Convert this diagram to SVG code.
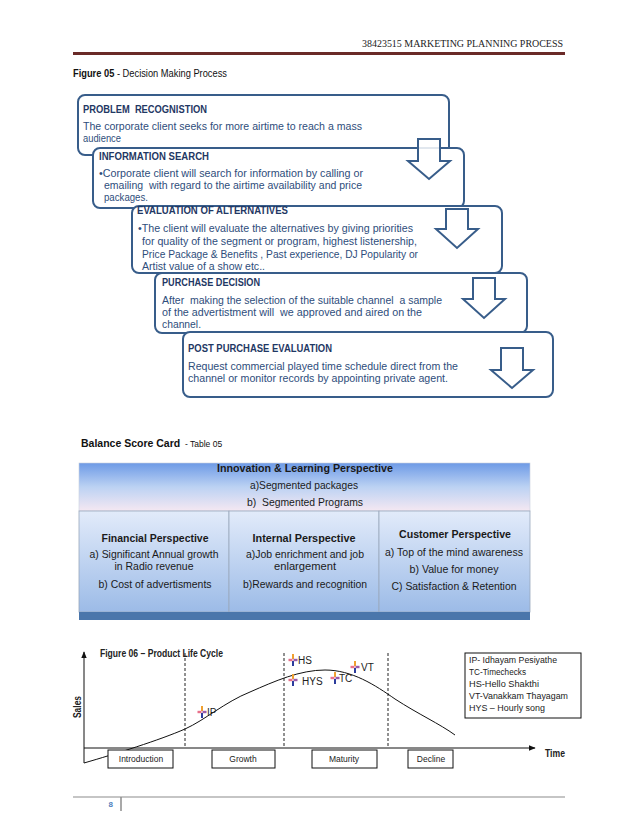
<svg xmlns="http://www.w3.org/2000/svg" xmlns:xlink="http://www.w3.org/1999/xlink" width="638" height="826" viewBox="0 0 638 826">
<style>
text{font-family:"Liberation Sans",Arial,sans-serif}
.hdr{font-family:"Liberation Serif","Times New Roman",serif;font-size:10.5px;fill:#222}
.cap{font-size:10px;fill:#111}
.b{font-weight:bold}
.box{fill:#fff;stroke:#385d8a;stroke-width:2}
.bh{font-size:10px;font-weight:bold;fill:#1f3864}
.bt{font-size:10.5px;fill:#2e4d7b}
.arr{fill:#fff;fill-opacity:0.85;stroke:#385d8a;stroke-width:2;stroke-linejoin:miter}
.tt{font-size:10.5px;fill:#1a1a1a;text-anchor:middle}
.cell{fill:url(#cellGrad);stroke:#9aa8bc;stroke-width:0.8}
.ax{stroke:#111;stroke-width:1;fill:none}
.dash{stroke:#222;stroke-width:1;stroke-dasharray:3,2}
.ph{fill:#fff;stroke:#111;stroke-width:1}
.pt{font-size:8.5px;fill:#222;text-anchor:middle}
.lab{font-size:10px;fill:#222}
.lg{font-size:8.5px;fill:#222}
</style>
<defs>
<linearGradient id="hdrGrad" x1="0" y1="0" x2="0" y2="1">
<stop offset="0" stop-color="#6d9ae6"/>
<stop offset="0.5" stop-color="#bcd2f3"/>
<stop offset="1" stop-color="#f5e8f2"/>
</linearGradient>
<linearGradient id="cellGrad" x1="0" y1="0" x2="0" y2="1">
<stop offset="0" stop-color="#e2ebfa"/>
<stop offset="1" stop-color="#9cbbe7"/>
</linearGradient>
<marker id="ah" viewBox="0 0 10 10" refX="9" refY="5" markerWidth="7" markerHeight="7" orient="auto">
<path d="M0,1 L10,5 L0,9 z" fill="#111"/>
</marker>
<g id="pin">
<rect x="-1" y="-6" width="2" height="5" fill="#f0a030"/>
<rect x="-4.5" y="-1.2" width="4" height="2.4" fill="#e8708a"/>
<rect x="0.5" y="-1.2" width="4" height="2.4" fill="#9a5aa8"/>
<rect x="-1" y="1" width="2" height="5" fill="#2c3c9c"/>
</g>
</defs>
<rect width="638" height="826" fill="#fff"/>

<!-- page header -->
<g id="page-header">
<text class="hdr" x="563" y="47" text-anchor="end" textLength="201" lengthAdjust="spacingAndGlyphs">38423515 MARKETING PLANNING PROCESS</text>
<rect x="73" y="52" width="492" height="3" fill="#6a2a28"/>
<text class="cap" x="73" y="77" textLength="154" lengthAdjust="spacingAndGlyphs"><tspan class="b">Figure 05</tspan> - Decision Making Process</text>
</g>

<!-- decision making process boxes -->
<g id="problem-recognition">
<rect class="box" x="78" y="95" width="371" height="60" rx="7"/>
<text class="bh" x="83" y="113" textLength="124" lengthAdjust="spacingAndGlyphs" xml:space="preserve">PROBLEM  RECOGNISTION</text>
<text class="bt" x="83" y="130" textLength="279" lengthAdjust="spacingAndGlyphs">The corporate client seeks for more airtime to reach a mass</text>
<text class="bt" x="83" y="142" textLength="38" lengthAdjust="spacingAndGlyphs">audience</text>
</g>
<g id="information-search">
<rect class="box" x="93" y="148" width="371" height="60" rx="7"/>
<text class="bh" x="99" y="160" textLength="110" lengthAdjust="spacingAndGlyphs">INFORMATION SEARCH</text>
<text class="bt" x="99" y="177" textLength="264" lengthAdjust="spacingAndGlyphs">•Corporate client will search for information by calling or</text>
<text class="bt" x="104" y="189" textLength="258" lengthAdjust="spacingAndGlyphs" xml:space="preserve">emailing  with regard to the airtime availability and price</text>
<text class="bt" x="104" y="201" textLength="44" lengthAdjust="spacingAndGlyphs">packages.</text>
</g>
<g id="evaluation-of-alternatives">
<rect class="box" x="132" y="206" width="370" height="67" rx="7"/>
<text class="bh" x="137" y="214" textLength="151" lengthAdjust="spacingAndGlyphs">EVALUATION OF ALTERNATIVES</text>
<text class="bt" x="138" y="232" textLength="275" lengthAdjust="spacingAndGlyphs">•The client will evaluate the alternatives by giving priorities</text>
<text class="bt" x="142" y="245" textLength="275" lengthAdjust="spacingAndGlyphs">for quality of the segment or program, highest listenership,</text>
<text class="bt" x="142" y="258" textLength="276" lengthAdjust="spacingAndGlyphs">Price Package &amp; Benefits , Past experience, DJ Popularity or</text>
<text class="bt" x="142" y="270" textLength="123" lengthAdjust="spacingAndGlyphs">Artist value of a show etc..</text>
</g>
<g id="purchase-decision">
<rect class="box" x="155" y="273" width="372" height="60" rx="7"/>
<text class="bh" x="162" y="286" textLength="98" lengthAdjust="spacingAndGlyphs">PURCHASE DECISION</text>
<text class="bt" x="162" y="304" textLength="280" lengthAdjust="spacingAndGlyphs" xml:space="preserve">After  making the selection of the suitable channel  a sample</text>
<text class="bt" x="162" y="316" textLength="260" lengthAdjust="spacingAndGlyphs" xml:space="preserve">of the advertistment will  we approved and aired on the</text>
<text class="bt" x="162" y="328" textLength="39" lengthAdjust="spacingAndGlyphs">channel.</text>
</g>
<g id="post-purchase-evaluation">
<rect class="box" x="183" y="332" width="370" height="65" rx="7"/>
<text class="bh" x="188" y="352" textLength="144" lengthAdjust="spacingAndGlyphs">POST PURCHASE EVALUATION</text>
<text class="bt" x="188" y="370" textLength="270" lengthAdjust="spacingAndGlyphs">Request commercial played time schedule direct from the</text>
<text class="bt" x="188" y="382" textLength="260" lengthAdjust="spacingAndGlyphs">channel or monitor records by appointing private agent.</text>
</g>

<g id="connectors">
<path class="arr" d="M418,139 H440 V161 H450 L429,179 L408,161 H418 Z"/>
<path class="arr" d="M446,209 H468 V229 H478 L457,248 L436,229 H446 Z"/>
<path class="arr" d="M473,278 H495 V299 H505 L484,318 L463,299 H473 Z"/>
<path class="arr" d="M501,348 H523 V370 H533 L512,388 L491,370 H501 Z"/>
</g>

<!-- balance score card -->
<g id="bsc-title">
<text class="cap" x="81" y="447"><tspan class="b" font-size="10.5">Balance Score Card</tspan><tspan font-size="8.5" xml:space="preserve">  - Table 05</tspan></text>
</g>
<g id="innovation-learning">
<rect x="79" y="463" width="451" height="48" fill="url(#hdrGrad)" stroke="#c8d0dc" stroke-width="0.6"/>
<text class="tt b" x="305" y="472" textLength="176" lengthAdjust="spacingAndGlyphs">Innovation &amp; Learning Perspective</text>
<text class="tt" x="304" y="489" textLength="108" lengthAdjust="spacingAndGlyphs">a)Segmented packages</text>
<text class="tt" x="305" y="506" textLength="116" lengthAdjust="spacingAndGlyphs" xml:space="preserve">b)  Segmented Programs</text>
</g>
<g id="financial">
<rect class="cell" x="79" y="511" width="150" height="101"/>
<text class="tt b" x="155" y="542" textLength="107" lengthAdjust="spacingAndGlyphs">Financial Perspective</text>
<text class="tt" x="154" y="558" textLength="129" lengthAdjust="spacingAndGlyphs">a) Significant Annual growth</text>
<text class="tt" x="154" y="570" textLength="79" lengthAdjust="spacingAndGlyphs">in Radio revenue</text>
<text class="tt" x="155" y="588" textLength="113" lengthAdjust="spacingAndGlyphs">b) Cost of advertisments</text>
</g>
<g id="internal">
<rect class="cell" x="229" y="511" width="150" height="101"/>
<text class="tt b" x="304" y="542" textLength="103" lengthAdjust="spacingAndGlyphs">Internal Perspective</text>
<text class="tt" x="305" y="558" textLength="118" lengthAdjust="spacingAndGlyphs">a)Job enrichment and job</text>
<text class="tt" x="305" y="570" textLength="62" lengthAdjust="spacingAndGlyphs">enlargement</text>
<text class="tt" x="305" y="588" textLength="124" lengthAdjust="spacingAndGlyphs">b)Rewards and recognition</text>
</g>
<g id="customer">
<rect class="cell" x="379" y="511" width="151" height="101"/>
<text class="tt b" x="455" y="538" textLength="112" lengthAdjust="spacingAndGlyphs">Customer Perspective</text>
<text class="tt" x="454" y="556" textLength="138" lengthAdjust="spacingAndGlyphs">a) Top of the mind awareness</text>
<text class="tt" x="454" y="573" textLength="89" lengthAdjust="spacingAndGlyphs">b) Value for money</text>
<text class="tt" x="454" y="590" textLength="125" lengthAdjust="spacingAndGlyphs">C) Satisfaction &amp; Retention</text>
</g>
<rect x="79" y="612" width="451" height="8" fill="#4a76ab"/>

<!-- product life cycle -->
<g id="plc-axes">
<line class="ax" x1="84" y1="763" x2="84" y2="652" marker-end="url(#ah)"/>
<line class="ax" x1="84" y1="748" x2="535" y2="748" marker-end="url(#ah)"/>
<text class="lab b" x="0" y="0" transform="translate(81,718) rotate(-90)" textLength="22" lengthAdjust="spacingAndGlyphs">Sales</text>
<text class="lab b" x="545" y="757" font-size="9.5" textLength="20" lengthAdjust="spacingAndGlyphs">Time</text>
<text class="lab b" x="100" y="657" font-size="9.5" textLength="123" lengthAdjust="spacingAndGlyphs">Figure 06 – Product Life Cycle</text>
<line class="dash" x1="185" y1="653" x2="185" y2="748"/>
<line class="dash" x1="284" y1="653" x2="284" y2="748"/>
<line class="dash" x1="388" y1="653" x2="388" y2="748"/>
<path class="ax" d="M84,763 C115,754 160,740 185,729 C205,720 225,702 250,692 C275,681 300,670 325,670 C352,670 375,685 395,699 C418,714 440,724 455,735"/>
</g>
<g id="phase-introduction"><rect class="ph" x="108" y="750" width="65" height="18"/><text class="pt" x="141" y="762">Introduction</text></g>
<g id="phase-growth"><rect class="ph" x="212" y="750" width="63" height="18"/><text class="pt" x="243" y="762">Growth</text></g>
<g id="phase-maturity"><rect class="ph" x="312" y="750" width="65" height="18"/><text class="pt" x="344" y="762">Maturity</text></g>
<g id="phase-decline"><rect class="ph" x="408" y="750" width="45" height="18"/><text class="pt" x="431" y="762">Decline</text></g>
<g id="product-ip"><use xlink:href="#pin" x="202" y="712"/><text class="lab" x="207" y="716">IP</text></g>
<g id="product-hs"><use xlink:href="#pin" x="293" y="660"/><text class="lab" x="298" y="664">HS</text></g>
<g id="product-hys"><use xlink:href="#pin" x="293" y="680"/><text class="lab" x="302" y="685">HYS</text></g>
<g id="product-tc"><use xlink:href="#pin" x="335" y="678"/><text class="lab" x="339" y="682">TC</text></g>
<g id="product-vt"><use xlink:href="#pin" x="355" y="667"/><text class="lab" x="361" y="671">VT</text></g>
<g id="legend">
<rect x="465" y="653" width="116" height="65" fill="#fff" stroke="#111" stroke-width="1"/>
<text class="lg" x="469" y="663" textLength="88" lengthAdjust="spacingAndGlyphs">IP- Idhayam Pesiyathe</text>
<text class="lg" x="469" y="675" textLength="57" lengthAdjust="spacingAndGlyphs">TC-Timechecks</text>
<text class="lg" x="469" y="687" textLength="70" lengthAdjust="spacingAndGlyphs">HS-Hello Shakthi</text>
<text class="lg" x="469" y="699" textLength="99" lengthAdjust="spacingAndGlyphs">VT-Vanakkam Thayagam</text>
<text class="lg" x="469" y="711" textLength="76" lengthAdjust="spacingAndGlyphs">HYS – Hourly song</text>
</g>

<!-- footer -->
<g id="footer">
<line x1="73" y1="797" x2="565" y2="797" stroke="#8c8c8c" stroke-width="1.2"/>
<line x1="121" y1="797" x2="121" y2="811" stroke="#8c8c8c" stroke-width="1.5"/>
<text x="113" y="807" font-size="8" fill="#4f81bd" text-anchor="end" font-weight="bold">8</text>
</g>
</svg>
